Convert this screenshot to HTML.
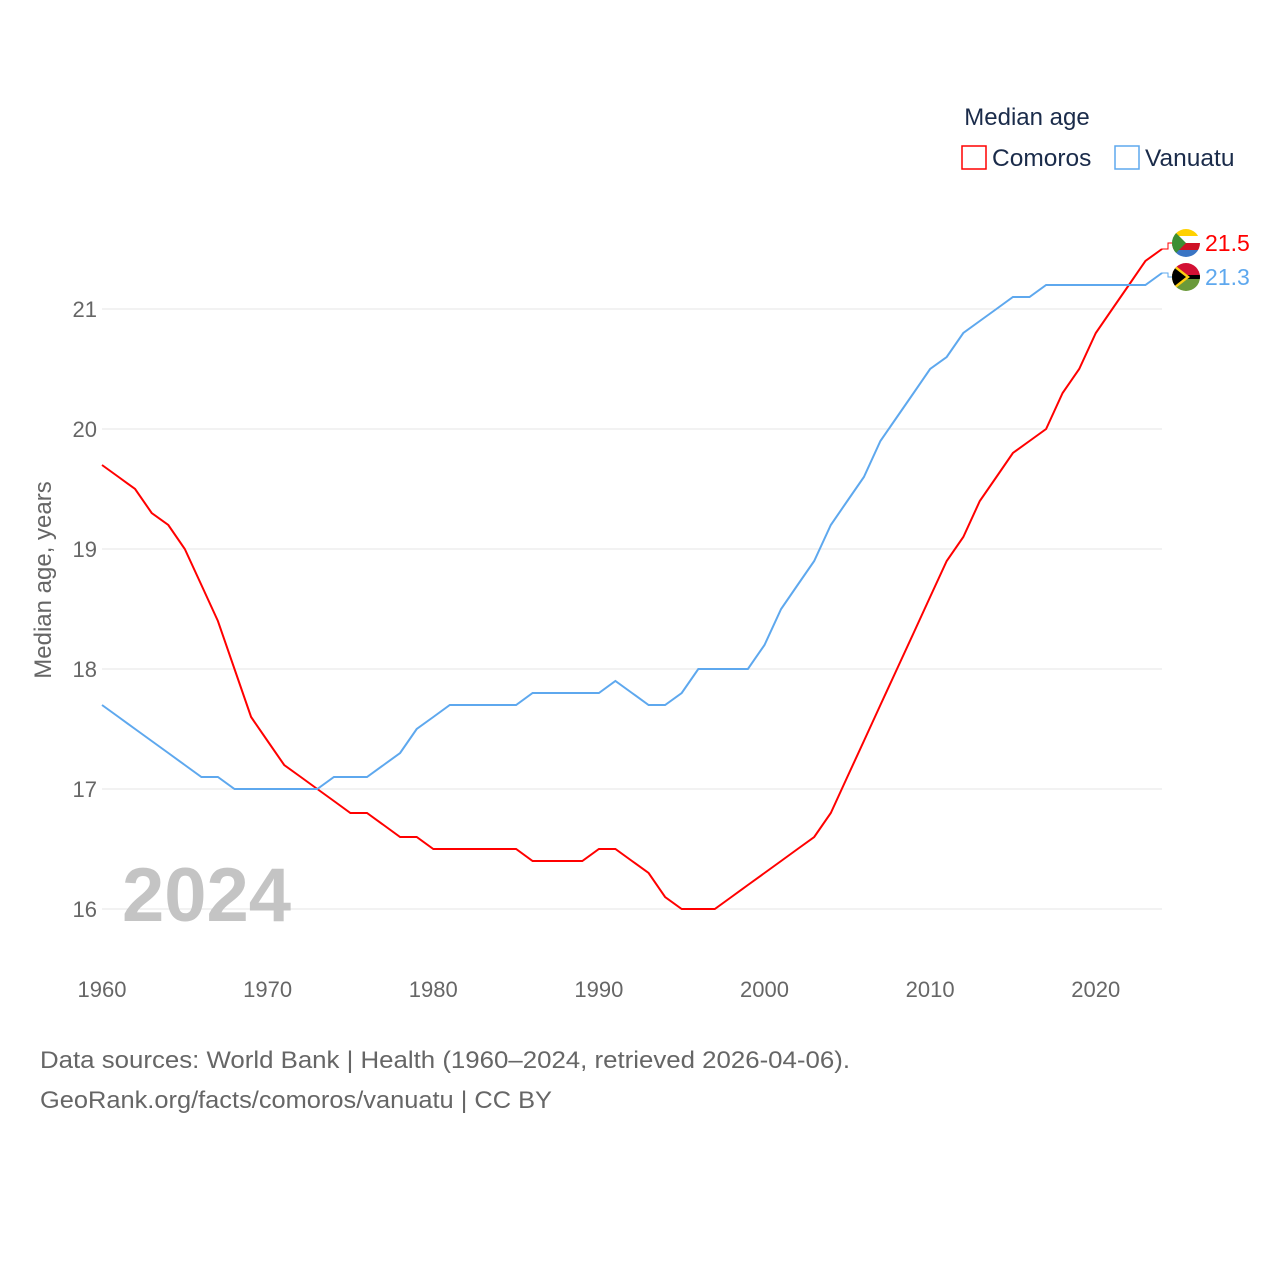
<!DOCTYPE html>
<html><head><meta charset="utf-8"><style>
body{margin:0;background:#fff;font-family:"Liberation Sans",sans-serif}
svg text{font-family:"Liberation Sans",sans-serif}
</style></head><body>
<svg id="chart" width="1280" height="1280" viewBox="0 0 1280 1280">
<g id="grid"></g><g id="axes"></g><g id="series"></g>
<text x="1027" y="125" font-size="24" fill="#1a2b4a" text-anchor="middle">Median age</text>
<rect x="962" y="146" width="24" height="23" fill="none" stroke="#ff0000" stroke-width="1.5"/>
<text x="992" y="166" font-size="24.5" fill="#1a2b4a">Comoros</text>
<rect x="1115" y="146" width="24" height="23" fill="none" stroke="#5ea8ee" stroke-width="1.5"/>
<text x="1145" y="166" font-size="24.5" fill="#1a2b4a">Vanuatu</text>
<text transform="translate(51,580) rotate(-90)" font-size="24" fill="#666" text-anchor="middle">Median age, years</text>
<text x="122" y="921" font-size="76" font-weight="bold" fill="#c4c4c4">2024</text>
<text x="40" y="1068" font-size="24" fill="#666" textLength="810" lengthAdjust="spacingAndGlyphs">Data sources: World Bank | Health (1960–2024, retrieved 2026-04-06).</text>
<text x="40" y="1108" font-size="24" fill="#666" textLength="512" lengthAdjust="spacingAndGlyphs">GeoRank.org/facts/comoros/vanuatu | CC BY</text>
</svg>
<script>
const years=[];for(let y=1960;y<=2024;y++)years.push(y);
const comoros=[19.7,19.6,19.5,19.3,19.2,19.0,18.7,18.4,18.0,17.6,17.4,17.2,17.1,17.0,16.9,16.8,16.8,16.7,16.6,16.6,16.5,16.5,16.5,16.5,16.5,16.5,16.4,16.4,16.4,16.4,16.5,16.5,16.4,16.3,16.1,16.0,16.0,16.0,16.1,16.2,16.3,16.4,16.5,16.6,16.8,17.1,17.4,17.7,18.0,18.3,18.6,18.9,19.1,19.4,19.6,19.8,19.9,20.0,20.3,20.5,20.8,21.0,21.2,21.4,21.5];
const vanuatu=[17.7,17.6,17.5,17.4,17.3,17.2,17.1,17.1,17.0,17.0,17.0,17.0,17.0,17.0,17.1,17.1,17.1,17.2,17.3,17.5,17.6,17.7,17.7,17.7,17.7,17.7,17.8,17.8,17.8,17.8,17.8,17.9,17.8,17.7,17.7,17.8,18.0,18.0,18.0,18.0,18.2,18.5,18.7,18.9,19.2,19.4,19.6,19.9,20.1,20.3,20.5,20.6,20.8,20.9,21.0,21.1,21.1,21.2,21.2,21.2,21.2,21.2,21.2,21.2,21.3];
const yTicks=[16,17,18,19,20,21];
const xTicks=[1960,1970,1980,1990,2000,2010,2020];
const NS='http://www.w3.org/2000/svg';
const xs=y=>102+(y-1960)*(1060/64);
const ys=v=>909-(v-16)*120;
function mk(t,a,p){const e=document.createElementNS(NS,t);for(const k in a)e.setAttribute(k,a[k]);document.getElementById(p).appendChild(e);return e;}
yTicks.forEach(v=>{
 const l=mk('line',{x1:102,x2:1162,y1:ys(v),y2:ys(v),stroke:'#e6e6e6','stroke-width':1},'grid');
 
 
 const t=mk('text',{x:97,y:ys(v)+8,'font-size':22,fill:'#666','text-anchor':'end'},'axes');t.textContent=v;
 
 
});
xTicks.forEach(v=>{
 const t=mk('text',{x:xs(v),y:997,'font-size':22,fill:'#666','text-anchor':'middle'},'axes');t.textContent=v;
 
 
});
function draw(vals,col,name,fy,flag){
 const d=vals.map((v,i)=>(i?'L':'M')+xs(years[i]).toFixed(1)+','+ys(v).toFixed(1)).join('');
 const p=mk('path',{d:d,fill:'none',stroke:col,'stroke-width':2},'series');
 
 
 const lx=xs(2024),ly=ys(vals[vals.length-1]);
 const c=mk('path',{d:`M${lx},${ly}L1168,${ly}L1168,${fy}L1172,${fy}`,fill:'none',stroke:col,'stroke-width':1},'series');
 
 
 const g=mk('g',{},'series');g.innerHTML=flag;
 
 
 const t=mk('text',{x:1205,y:fy+8,'font-size':23,fill:col},'series');t.textContent=vals[vals.length-1].toFixed(1);
 
 
}
draw(comoros,'#ff0000','comoros',243,'<clipPath id="c1"><circle cx="1186" cy="243" r="14"/></clipPath><g clip-path="url(#c1)"><rect x="1172" y="229" width="28" height="7" fill="#ffd100"/><rect x="1172" y="236" width="28" height="7" fill="#fff"/><rect x="1172" y="243" width="28" height="7" fill="#ce1126"/><rect x="1172" y="250" width="28" height="7" fill="#3a75c4"/><path d="M1172,229L1186,243L1172,257Z" fill="#3d8e33"/></g>');
draw(vanuatu,'#5ea8ee','vanuatu',277,'<clipPath id="c2"><circle cx="1186" cy="277" r="14"/></clipPath><g clip-path="url(#c2)"><rect x="1172" y="263" width="28" height="14" fill="#d21034"/><rect x="1172" y="277" width="28" height="14" fill="#6a9a3a"/><rect x="1172" y="275" width="28" height="4" fill="#000"/><path d="M1172,263L1190,277L1172,291Z" fill="#fdce12"/><path d="M1172,266L1186,277L1172,288Z" fill="#000"/></g>');
</script>
</body></html>
